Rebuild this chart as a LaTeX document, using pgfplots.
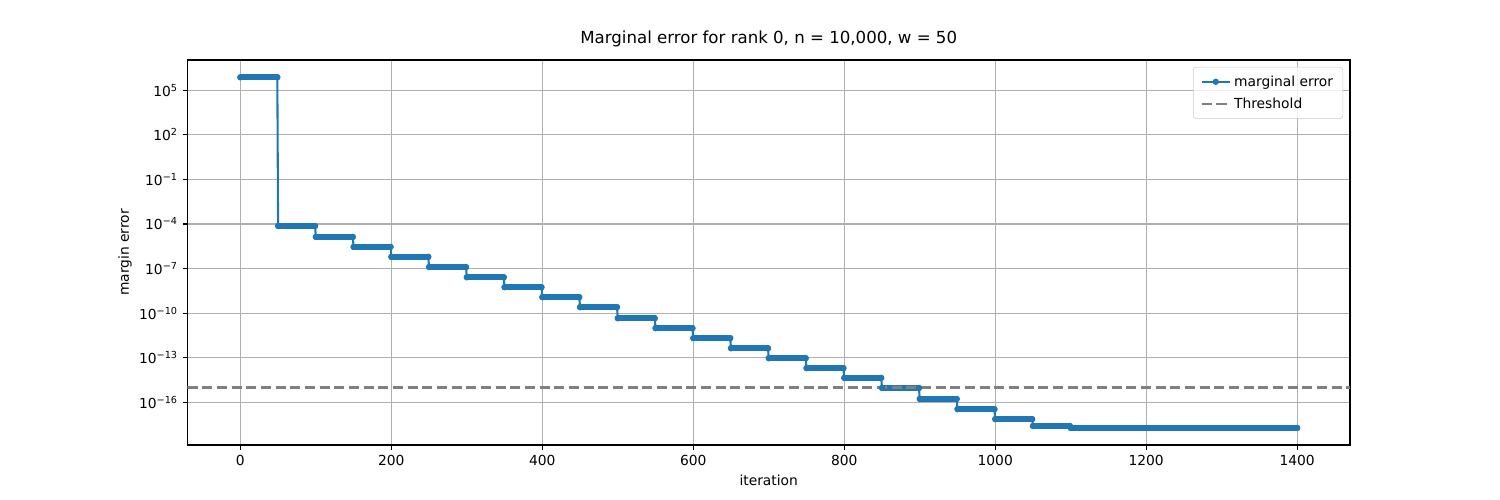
\documentclass[border=0pt]{standalone}
\usepackage{fontspec}
\setmainfont{DejaVu Sans}
\usepackage{pgfplots}
\usepackage{pgfplotstable}
\pgfplotsset{compat=1.18}
\definecolor{mplblue}{HTML}{1F77B4}
\definecolor{gridgray}{HTML}{B0B0B0}
\definecolor{legedge}{HTML}{CCCCCC}
\definecolor{thrgray}{HTML}{808080}

% step levels of the marginal error
\pgfplotstableread{
x y
0 7.50e5
49 7.50e5
50 7.35e-5
99 7.35e-5
100 1.35e-5
149 1.35e-5
150 2.88e-6
199 2.88e-6
200 6.17e-7
249 6.17e-7
250 1.26e-7
299 1.26e-7
300 2.57e-8
349 2.57e-8
350 5.50e-9
399 5.50e-9
400 1.17e-9
449 1.17e-9
450 2.51e-10
499 2.51e-10
500 4.47e-11
549 4.47e-11
550 9.55e-12
599 9.55e-12
600 2.04e-12
649 2.04e-12
650 4.27e-13
699 4.27e-13
700 9.12e-14
749 9.12e-14
750 1.95e-14
799 1.95e-14
800 4.37e-15
849 4.37e-15
850 9.12e-16
899 9.12e-16
900 1.66e-16
949 1.66e-16
950 3.39e-17
999 3.39e-17
1000 7.24e-18
1049 7.24e-18
1050 2.51e-18
1099 2.51e-18
1100 1.86e-18
1400 1.86e-18
}\steps

% same plateaus, separated, for the dense-marker band
\pgfplotstableread{
x y
0 7.50e5
49 7.50e5
49 nan
50 7.35e-5
99 7.35e-5
99 nan
100 1.35e-5
149 1.35e-5
149 nan
150 2.88e-6
199 2.88e-6
199 nan
200 6.17e-7
249 6.17e-7
249 nan
250 1.26e-7
299 1.26e-7
299 nan
300 2.57e-8
349 2.57e-8
349 nan
350 5.50e-9
399 5.50e-9
399 nan
400 1.17e-9
449 1.17e-9
449 nan
450 2.51e-10
499 2.51e-10
499 nan
500 4.47e-11
549 4.47e-11
549 nan
550 9.55e-12
599 9.55e-12
599 nan
600 2.04e-12
649 2.04e-12
649 nan
650 4.27e-13
699 4.27e-13
699 nan
700 9.12e-14
749 9.12e-14
749 nan
750 1.95e-14
799 1.95e-14
799 nan
800 4.37e-15
849 4.37e-15
849 nan
850 9.12e-16
899 9.12e-16
899 nan
900 1.66e-16
949 1.66e-16
949 nan
950 3.39e-17
999 3.39e-17
999 nan
1000 7.24e-18
1049 7.24e-18
1049 nan
1050 2.51e-18
1099 2.51e-18
1099 nan
1100 1.86e-18
1400 1.86e-18
}\band

\begin{document}
\begin{tikzpicture}
\path[use as bounding box] (-1.875in,-0.55in) rectangle (13.125in,4.45in);
\begin{axis}[
  at={(0,0)}, anchor=south west,
  scale only axis, width=11.625in, height=3.85in,
  ymode=log,
  xmin=-70, xmax=1470,
  ymin=1.32e-19, ymax=1.10e7,
  xtick={0,200,400,600,800,1000,1200,1400},
  xticklabels={0,200,400,600,800,1000,1200,1400},
  ytick={1e5,1e2,1e-1,1e-4,1e-7,1e-10,1e-13,1e-16},
  yticklabels={10\textsuperscript{5},10\textsuperscript{2},10\textsuperscript{−1},10\textsuperscript{−4},10\textsuperscript{−7},10\textsuperscript{−10},10\textsuperscript{−13},10\textsuperscript{−16}},
  yminorticks=false, xminorticks=false,
  tick align=outside, xtick pos=bottom, ytick pos=left,
  major tick length=3.5pt,
  tick style={black, line width=0.8pt},
  axis line style={line width=0.8pt},
  grid=major,
  major grid style={gridgray, line width=0.8pt},
  unbounded coords=jump,
  title={Marginal error for rank 0, n = 10,000, w = 50},
  title style={at={(axis description cs:0.5,1)}, anchor=base, yshift=6pt, font=\fontsize{12}{14}\selectfont},
  xlabel={iteration},
  xlabel style={at={(axis description cs:0.5,-0.1039)}, anchor=base},
  ylabel={margin error},
  ylabel style={at={(axis description cs:-0.0538,0.5)}, anchor=center, rotate=0},
  legend style={at={(1,1)}, anchor=north east, xshift=-5pt, yshift=-5pt,
    draw=legedge, rounded corners=2pt, fill=white, fill opacity=0.8, text opacity=1,
    inner xsep=5pt, inner ysep=4pt, row sep=3pt,
    cells={anchor=west}, font=\fontsize{10}{12}\selectfont},
  legend cell align=left,
  legend image code/.code={\draw[mark repeat=2,mark phase=2] plot coordinates {(0cm,0cm) (0.36cm,0cm) (0.72cm,0cm)};},
]
\addplot[forget plot, mplblue, line width=4.2pt, line cap=round, no marks] table[x=x,y=y] {\band};
\addplot[mplblue, line width=1.5pt, mark=*, mark size=1.5pt, mark options={solid}] table[x=x,y=y] {\steps};
\addlegendentry{marginal error}
\addplot[thrgray, line width=2pt, dash pattern=on 7.4pt off 3.2pt, no marks] coordinates {(-70,1e-15) (1470,1e-15)};
\addlegendentry{Threshold}
\end{axis}
\end{tikzpicture}
\end{document}
